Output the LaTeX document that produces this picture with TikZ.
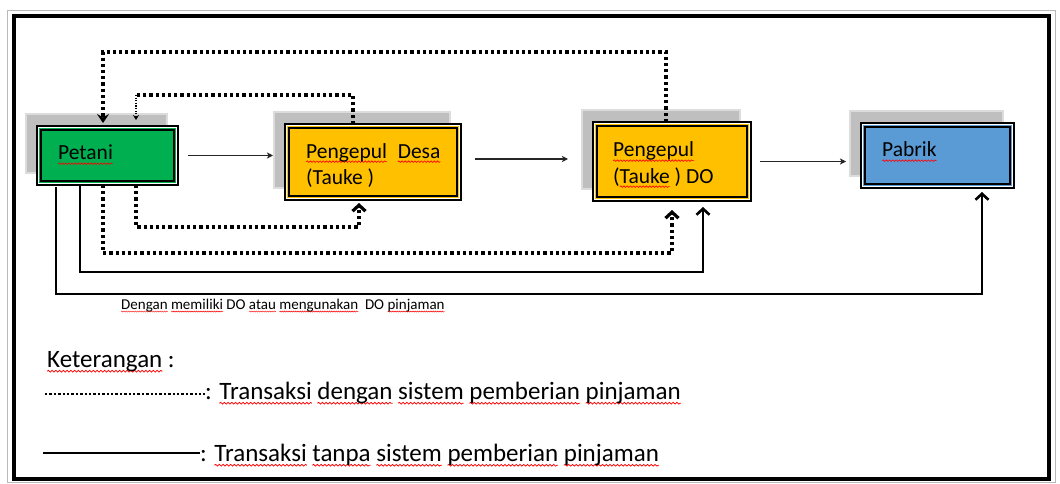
\documentclass[tikz,border=0pt]{standalone}
\usepackage{fontspec}
\setmainfont{Carlito}
\usetikzlibrary{arrows.meta,calc,decorations.pathmorphing,backgrounds}
\definecolor{cgreen}{HTML}{00B050}
\definecolor{cyellow}{HTML}{FFC000}
\definecolor{cblue}{HTML}{5B9BD5}
\definecolor{shfill}{HTML}{BFBFBF}
\definecolor{shedge}{HTML}{DCDCDC}
\newlength\wvlen
\newcommand{\wv}[1]{\settowidth{\wvlen}{#1}\rlap{\tikz[baseline=0pt]\draw[overlay,red,line width=0.03em,decorate,decoration={snake,amplitude=0.035em,segment length=0.15em}] (0pt,-0.17em) -- (\wvlen,-0.17em);}#1}
\tikzset{
  cbox/.style={rectangle, draw=black, line width=1.2pt, inner sep=0pt, outer sep=0pt},
  shadowbox/.style={fill=shfill, draw=shedge, line width=2pt},
  boxtext/.style={inner sep=0pt, anchor=base west, font=\fontsize{21.5}{26}\selectfont},
  lbltext/.style={inner sep=0pt, anchor=base west, font=\fontsize{15}{18}\selectfont},
  legtext/.style={inner sep=0pt, anchor=base west, font=\fontsize{25}{30}\selectfont},
  thinarr/.style={line width=1.1pt, black!85, -{Stealth[length=6pt,width=6pt,inset=1.5pt]}},
  dotbig/.style={line width=3.2pt, dash pattern=on 3.2pt off 3pt},
  dotthin/.style={line width=1.3pt, dash pattern=on 1.3pt off 1.3pt},
  solidthick/.style={line width=2.6pt},
  barb/.style={-{Straight Barb[length=6pt,width=13pt]}},
}
\begin{document}
\begin{tikzpicture}[x=1pt,y=-1pt]
\useasboundingbox (0,0) rectangle (1060,484);
\begin{scope}[on background layer]
\fill[white] (0,0) rectangle (1060,484);
\end{scope}
% frame
\draw[gray!55, line width=1.3pt] (7.5,10.5) rectangle (1055.5,482.5);
\draw[line width=4pt] (14,16.5) rectangle (1049,479);
% boxes
\node[cbox, fill=cgreen, minimum width=141pt, minimum height=59pt] (P) at (107.5,155.5) {};
\node[cbox, fill=cyellow, minimum width=176pt, minimum height=76pt] (D) at (373,162) {};
\node[cbox, fill=cyellow, minimum width=158pt, minimum height=79pt] (DO) at (672,161.5) {};
\node[cbox, fill=cblue, minimum width=153pt, minimum height=65pt] (Pb) at (937.5,155.5) {};
\begin{scope}[on background layer]
\foreach \n in {P,D,DO,Pb}{
  \draw[shadowbox] ($(\n.south west)+(-11,-12)$) rectangle ($(\n.north east)+(-11,-12)$);
}
\end{scope}
\foreach \n in {P,D,DO,Pb}{
  \draw[white, line width=0.9pt] ([shift={(1.7pt,1.7pt)}]\n.south west) rectangle ([shift={(-1.7pt,-1.7pt)}]\n.north east);
  \draw[line width=2.2pt] ([shift={(3.8pt,3.8pt)}]\n.south west) rectangle ([shift={(-3.8pt,-3.8pt)}]\n.north east);
}
% box texts
\node[boxtext] (Pt) at (58,160) {\wv{Petani}};
\node[boxtext] (Dt1) at (306,158) {\wv{Pengepul}\hspace{0.5em}\wv{Desa}};
\node[boxtext] (Dt2) at (306,184) {(Tauke )};
\node[boxtext] (DOt1) at (613,157) {\wv{Pengepul}};
\node[boxtext] (DOt2) at (613,183) {(\wv{Tauke} ) DO};
\node[boxtext] (Pbt) at (882,157) {\wv{Pabrik}};
% thin arrows
\draw[thinarr] ($(P.east)+(10,0)$) -- ($(P.east -| D.west)+(-12,0)$);
\draw[thinarr] ($(D.east)+(14,-3)$) -- ($(D.east -| DO.west)+(-25,-3)$);
\draw[thinarr] ($(DO.east)+(9,0)$) -- ($(DO.east -| Pb.west)+(-15,0)$);
% dotted loops on top
\draw[dotbig, -{Stealth[length=9pt,width=12pt,inset=3.5pt]}] ($(DO.north)+(-6,0)$) -- ++(0,-70) -| ($(P.north)+(-4.5,-3)$);
\coordinate (c2) at ($(P.north)+(28.5,-31)$);
\draw[dotbig] ($(D.north)+(-20,0)$) |- (c2);
\draw[dotthin, -{Stealth[length=5pt,width=6pt]}] (c2) -- ($(P.north)+(28.5,-6)$);
% dotted loops below
\draw[dotbig, barb] ($(P.south)+(28.5,0)$) -- ++(0,42) -| ($(D.south)+(-14,3)$);
\draw[dotbig, barb] ($(P.south)+(-4.5,0)$) -- ++(0,68) -| ($(DO.south)+(0,9)$);
% solid loops below
\draw[solidthick, barb] ($(P.south)+(-27.5,0)$) -- ++(0,87) -| ($(DO.south)+(31,6)$);
\draw[solidthick, barb] ($(P.south)+(-51.5,2)$) -- ++(0,107) -| ($(Pb.south)+(44.5,4)$);
\node[lbltext] (lb) at (121,309) {\wv{Dengan} \wv{memiliki} DO \wv{atau} \wv{mengunakan}\hspace{0.45em}DO \wv{pinjaman}};
% legend
\node[legtext] (ket) at (47,367) {\wv{Keterangan} :};
\node[legtext] (l1) at (205,399) {: \wv{Transaksi} \wv{dengan} \wv{sistem} \wv{pemberian} \wv{pinjaman}};
\coordinate (a1) at (45,394);
\draw[line width=2.8pt, dash pattern=on 2.4pt off 2pt] (a1) -- (a1 -| l1.west);
\node[legtext] (l2) at (200,461) {: \wv{Transaksi} \wv{tanpa} \wv{sistem} \wv{pemberian} \wv{pinjaman}};
\coordinate (a2) at (43,453);
\draw[line width=1.4pt] (a2) -- (a2 -| l2.west);
\end{tikzpicture}
\end{document}
